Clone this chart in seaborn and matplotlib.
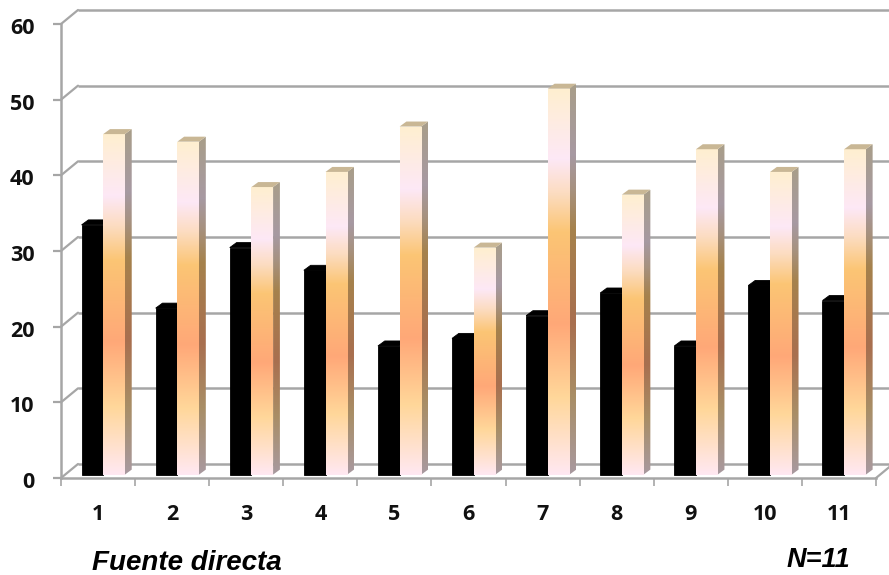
import numpy as np
import pandas as pd
import matplotlib
matplotlib.use('agg')
import matplotlib.pyplot as plt
from matplotlib.colors import LinearSegmentedColormap, to_rgb
from matplotlib.patches import Polygon
from matplotlib.transforms import ScaledTranslation
import seaborn as sns

items = ['1', '2', '3', '4', '5', '6', '7', '8', '9', '10', '11']
serie_a = [33, 22, 30, 27, 17, 18, 21, 24, 17, 25, 23]
serie_b = [45, 44, 38, 40, 46, 30, 51, 37, 43, 40, 43]
y_ticks = [0, 10, 20, 30, 40, 50, 60]

sns.set_theme(style='white')
plt.rcParams['font.family'] = ['Open Sans', 'DejaVu Sans']

W, H = 889, 575
fig = plt.figure(figsize=(W / 100, H / 100), dpi=100, facecolor='white')
ax = fig.add_axes([61 / W, 1 - 478 / H, (876 - 61) / W, (478 - 24) / H])

df = pd.DataFrame({
    'item': items * 2,
    'valor': serie_a + serie_b,
    'serie': ['a'] * len(items) + ['b'] * len(items),
})
sns.barplot(data=df, x='item', y='valor', hue='serie', palette=['black', '#ffe8f0'],
            width=0.585, gap=0, legend=False, saturation=1, ax=ax, zorder=3)

# one pixel in data units
px = 11 / (876 - 61)
py = 60 / (478 - 24)
grey = '#a6a6a6'

# bars sit a little inside the floor, with a small depth to the side and top
shift_x, shift_y = 5.2 * px, 3.4 * py
dep_x, dep_y = 6.8 * px, 5.0 * py

stops = [(0.0, '#ffefd0'), (0.18, '#fde8f6'), (0.27, '#fcdcc0'), (0.37, '#fbc574'),
         (0.61, '#ffa878'), (0.80, '#ffd79a'), (1.0, '#ffe8f2')]
cmap = LinearSegmentedColormap.from_list('fill', stops)
side_stops = [(p, tuple(c * 0.66 for c in to_rgb(col))) for p, col in stops]
side_cmap = LinearSegmentedColormap.from_list('side', side_stops)
grad = np.linspace(0, 1, 256).reshape(-1, 1)

for bar in ax.containers[0]:
    bar.set_x(bar.get_x() + shift_x)
    bar.set_y(shift_y)
    bar.set_edgecolor('black')
    bar.set_linewidth(0.6)
    x0, x1, top = bar.get_x(), bar.get_x() + bar.get_width(), bar.get_height() + shift_y
    ax.add_patch(Polygon([(x0, top), (x1, top), (x1 + dep_x, top + dep_y), (x0 + dep_x, top + dep_y)],
                         facecolor='black', edgecolor='black', lw=0.6, zorder=3))

for bar in ax.containers[1]:
    bar.set_x(bar.get_x() + shift_x)
    bar.set_y(shift_y)
    bar.set_edgecolor('none')
    x0, x1, top = bar.get_x(), bar.get_x() + bar.get_width(), bar.get_height() + shift_y
    im = ax.imshow(grad, cmap=cmap, aspect='auto', extent=(x0, x1, shift_y, top), zorder=5, vmin=0, vmax=1)
    im.set_clip_path(bar)
    bar.set_zorder(5)
    side = Polygon([(x1, shift_y), (x1 + dep_x, shift_y + dep_y), (x1 + dep_x, top + dep_y), (x1, top)],
                   color='none', lw=0, zorder=4)
    ax.add_patch(side)
    im2 = ax.imshow(grad, cmap=side_cmap, aspect='auto', extent=(x1, x1 + dep_x, shift_y, top + dep_y),
                    zorder=4, vmin=0, vmax=1)
    im2.set_clip_path(side)
    ax.add_patch(Polygon([(x0, top), (x1, top), (x1 + dep_x, top + dep_y), (x0 + dep_x, top + dep_y)],
                         color='#c9b795', lw=0, zorder=5))

# back wall and side wall
back_x, back_y = 17 * px, 14 * py
ax.hlines([v + back_y for v in y_ticks], -0.5 + back_x, 11.5, color=grey, lw=1.8, clip_on=False, zorder=1)
for v in y_ticks:
    ax.plot([-0.5, -0.5 + back_x], [v, v + back_y], color=grey, lw=1.6, clip_on=False, zorder=1)
ax.plot([10.5, 10.5 + back_x], [0, back_y], color=grey, lw=1.6, clip_on=False, zorder=1)

ax.set_xlim(-0.5, 10.5)
ax.set_ylim(0, 60)
ax.set_yticks(y_ticks)
ax.set_xlabel('')
ax.set_ylabel('')
ax.set_xticks(np.arange(-0.5, 11, 1), minor=True)
ax.tick_params(axis='x', which='major', length=0, pad=19, labelsize=15.5, labelcolor='#111111')
ax.tick_params(axis='x', which='minor', length=6, width=1.2, color=grey, bottom=True)
ax.tick_params(axis='y', length=6, width=1.6, color=grey, left=True, pad=13, labelsize=15.5, labelcolor='#111111')
for lab in ax.get_xticklabels():
    lab.set_fontweight('bold')
for lab in ax.get_yticklabels():
    lab.set_fontweight('bold')
    lab.set_transform(lab.get_transform() + ScaledTranslation(0, -2 / 100, fig.dpi_scale_trans))

sns.despine(ax=ax, top=True, right=True)
for name in ['left', 'bottom']:
    ax.spines[name].set_color(grey)
    ax.spines[name].set_linewidth(1.8)

fig.text(92 / W, 1 - 569.5 / H, 'Fuente directa', family='Liberation Sans', fontsize=20,
         fontweight='bold', fontstyle='italic', color='black', ha='left', va='baseline')
fig.text(787 / W, 1 - 567 / H, 'N=11', family='Liberation Sans', fontsize=19.5,
         fontweight='bold', fontstyle='italic', color='black', ha='left', va='baseline')

fig.savefig('out.png', dpi=100, facecolor='white')
